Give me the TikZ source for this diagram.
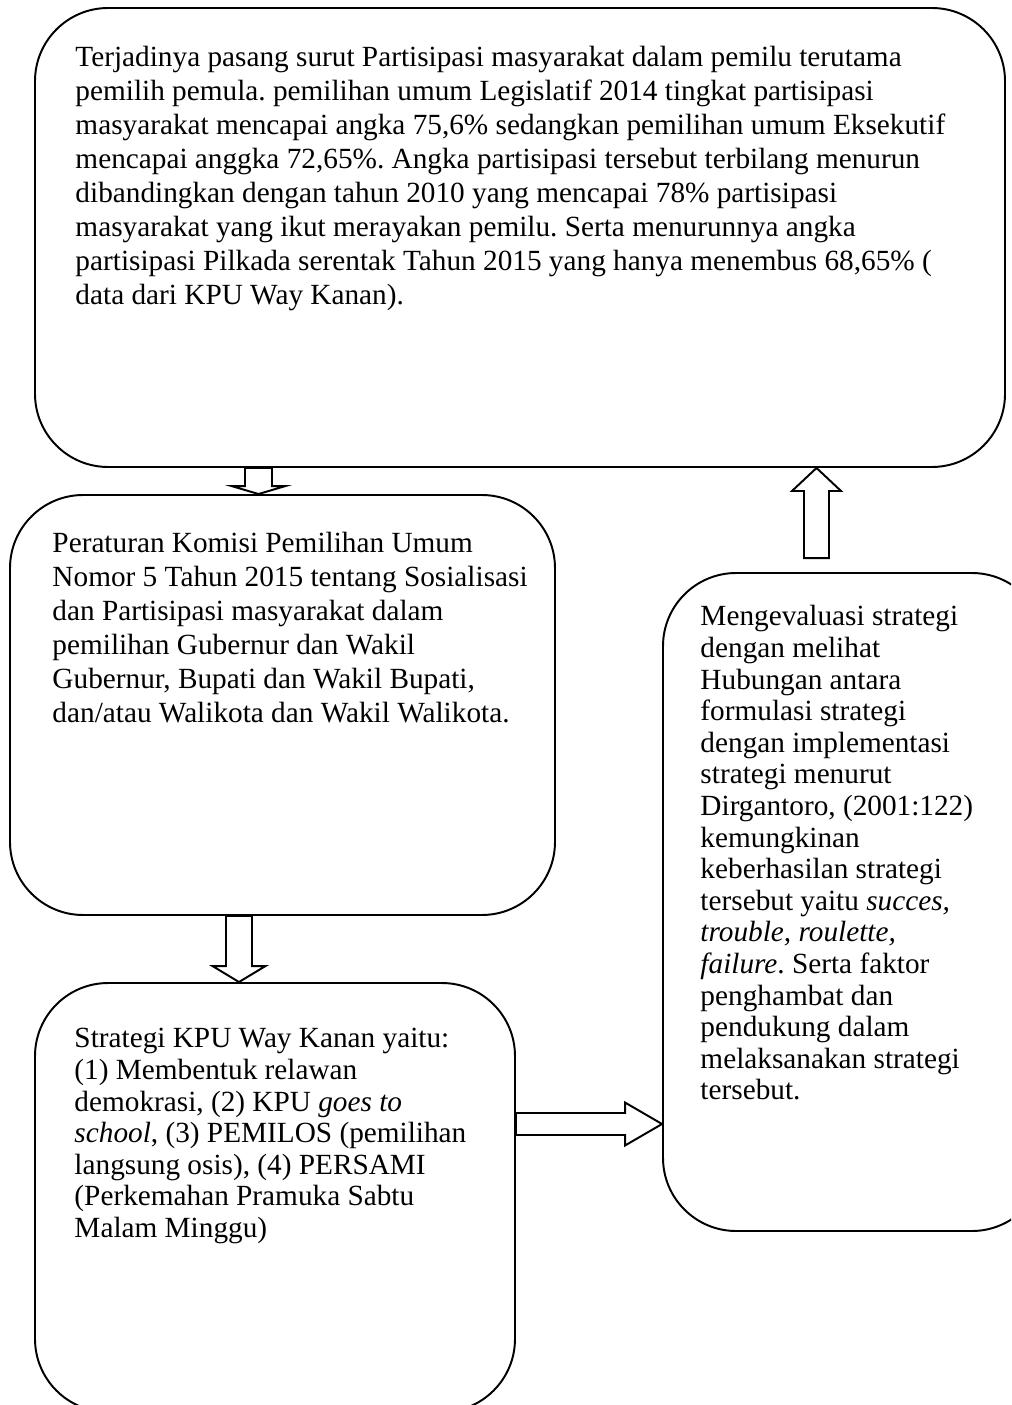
\documentclass[tikz,border=0pt]{standalone}
\usepackage{fontspec}
\setmainfont{Liberation Serif}
\usetikzlibrary{calc}
\frenchspacing

\newcommand{\unitpx}{0.41pt}
% block arrows: start, tip, shaft half width, head half width, head length
\newcommand{\vblock}[5]{%
  \draw[blk] ($(#1)+({-#3},0)$) -- ($(#2)+({-#3},{-1*(#5)})$) -- ($(#2)+({-#4},{-1*(#5)})$)
    -- (#2) -- ($(#2)+({#4},{-1*(#5)})$) -- ($(#2)+({#3},{-1*(#5)})$) -- ($(#1)+({#3},0)$) -- cycle;}
\newcommand{\hblock}[5]{%
  \draw[blk] ($(#1)+(0,{-#3})$) -- ($(#2)+({-1*(#5)},{-#3})$) -- ($(#2)+({-1*(#5)},{-#4})$)
    -- (#2) -- ($(#2)+({-1*(#5)},{#4})$) -- ($(#2)+({-1*(#5)},{#3})$) -- ($(#1)+(0,{#3})$) -- cycle;}

\begin{document}
\begin{tikzpicture}[x=\unitpx, y=-\unitpx,
    box/.style={draw, line width=0.8pt, rounded corners=30pt},
    txt/.style={anchor=north west, align=left, inner sep=0pt,
                font=\fontsize{12}{13.9}\selectfont},
    txtb/.style={txt, font=\fontsize{12}{12.96}\selectfont},
    blk/.style={draw, fill=white, line width=0.8pt, line join=miter}
  ]
  \useasboundingbox (0,0) rectangle (1011,1405);
  \clip (0,0) rectangle (1011,1405);

  % Boxes
  \node[box, minimum width=970*\unitpx, minimum height=459*\unitpx] (top) at (520,237.5) {};
  \node[box, minimum width=545*\unitpx, minimum height=420*\unitpx] (reg) at (282.5,705) {};
  \node[box, minimum width=480*\unitpx, minimum height=429*\unitpx] (strat) at (275,1197.5) {};
  \node[box, minimum width=382*\unitpx, minimum height=658*\unitpx] (eval) at (854,902) {};

  % Texts
  \node[txt] (toptxt) at (75,46) {Terjadinya pasang surut Partisipasi masyarakat dalam pemilu terutama\\
    pemilih pemula. pemilihan umum Legislatif 2014 tingkat partisipasi\\
    masyarakat mencapai angka 75,6\% sedangkan pemilihan umum Eksekutif\\
    mencapai anggka 72,65\%. Angka partisipasi tersebut terbilang menurun\\
    dibandingkan dengan tahun 2010 yang mencapai 78\% partisipasi\\
    masyarakat yang ikut merayakan pemilu. Serta menurunnya angka\\
    partisipasi Pilkada serentak Tahun 2015 yang hanya menembus 68,65\% (\\
    data dari KPU Way Kanan).};
  \node[txt] (regtxt) at (52,532) {Peraturan Komisi Pemilihan Umum\\
    Nomor 5 Tahun 2015 tentang Sosialisasi\\
    dan Partisipasi masyarakat dalam\\
    pemilihan Gubernur dan Wakil\\
    Gubernur, Bupati dan Wakil Bupati,\\
    dan/atau Walikota dan Wakil Walikota.};
  \node[txtb] (strattxt) at (74,1028) {Strategi KPU Way Kanan yaitu:\\
    (1) Membentuk relawan\\
    demokrasi, (2) KPU \textit{goes to}\\
    \textit{school}, (3) PEMILOS (pemilihan\\
    langsung osis), (4) PERSAMI\\
    (Perkemahan Pramuka Sabtu\\
    Malam Minggu)};
  \node[txtb] (evaltxt) at (700,605) {Mengevaluasi strategi\\
    dengan melihat\\
    Hubungan antara\\
    formulasi strategi\\
    dengan implementasi\\
    strategi menurut\\
    Dirgantoro, (2001:122)\\
    kemungkinan\\
    keberhasilan strategi\\
    tersebut yaitu \textit{succes,}\\
    \textit{trouble, roulette,}\\
    \textit{failure}. Serta faktor\\
    penghambat dan\\
    pendukung dalam\\
    melaksanakan strategi\\
    tersebut.};

  % Arrows
  \coordinate (a1s) at (258.5,0 |- top.south);
  \coordinate (a1e) at (258.5,0 |- reg.north);
  \coordinate (a2s) at (239,0 |- reg.south);
  \coordinate (a2e) at (239,0 |- strat.north);
  \coordinate (a3s) at (0,1124 -| strat.east);
  \coordinate (a3e) at (0,1124 -| eval.west);
  \coordinate (a4s) at ($(816.5,0 |- eval.north)+(0,-14)$);
  \coordinate (a4e) at (816.5,0 |- top.south);
  \vblock{a1s}{a1e}{13.5}{27}{8}
  \vblock{a2s}{a2e}{13}{26.5}{16}
  \hblock{a3s}{a3e}{11}{21.5}{37}
  \vblock{a4s}{a4e}{12.5}{24.5}{-23}
\end{tikzpicture}
\end{document}
